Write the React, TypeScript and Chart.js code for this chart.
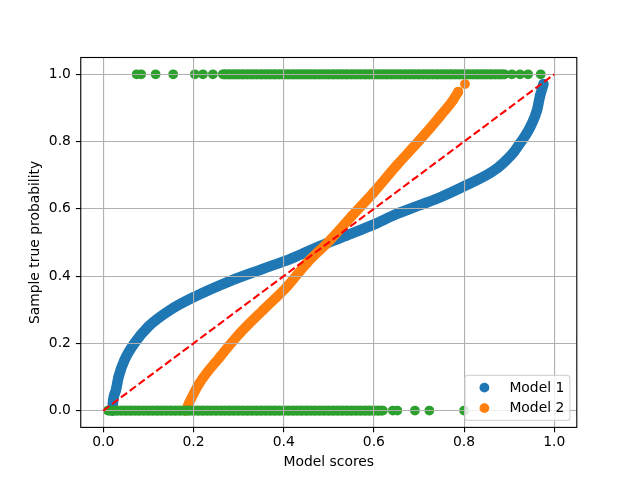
import React, { useEffect, useRef } from "react";
import { Chart, registerables } from "chart.js";

Chart.register(...registerables);

// ---------- data ----------
const xTickValues = [0.0, 0.2, 0.4, 0.6, 0.8, 1.0];
const yTickValues = [0.0, 0.2, 0.4, 0.6, 0.8, 1.0];

const model1Scores = [0.02, 0.022, 0.028, 0.034, 0.047, 0.069, 0.1, 0.148, 0.203, 0.277, 0.351, 0.418, 0.451, 0.495, 0.55, 0.599, 0.651, 0.702, 0.75, 0.8, 0.857, 0.876, 0.894, 0.91, 0.924, 0.937, 0.947, 0.962, 0.968, 0.976];
const model1True = [0.0, 0.032, 0.061, 0.101, 0.15, 0.2, 0.25, 0.299, 0.339, 0.383, 0.42, 0.453, 0.472, 0.497, 0.526, 0.553, 0.585, 0.611, 0.636, 0.667, 0.706, 0.723, 0.745, 0.768, 0.795, 0.82, 0.844, 0.894, 0.933, 0.971];

const model2Scores = [0.183, 0.19, 0.213, 0.259, 0.303, 0.355, 0.407, 0.451, 0.503, 0.55, 0.599, 0.651, 0.702, 0.746, 0.776, 0.787, 0.795, 0.802];
const model2True = [0.0, 0.022, 0.081, 0.16, 0.23, 0.3, 0.368, 0.438, 0.507, 0.577, 0.648, 0.73, 0.805, 0.874, 0.924, 0.948, null, 0.971];

// observed outcomes (label 1 / label 0) plotted at their scores
const positiveScores = [0.074, 0.084, 0.116, 0.155, 0.203, 0.221, 0.243, 0.265, 0.27, 0.28, 0.29, 0.3, 0.31, 0.32, 0.33, 0.34, 0.35, 0.36, 0.37, 0.38, 0.39, 0.4, 0.41, 0.42, 0.43, 0.44, 0.45, 0.46, 0.47, 0.48, 0.49, 0.5, 0.51, 0.52, 0.53, 0.54, 0.55, 0.56, 0.57, 0.58, 0.59, 0.6, 0.61, 0.62, 0.63, 0.64, 0.65, 0.66, 0.67, 0.68, 0.69, 0.7, 0.71, 0.72, 0.73, 0.74, 0.75, 0.76, 0.77, 0.78, 0.79, 0.8, 0.81, 0.82, 0.83, 0.84, 0.85, 0.86, 0.87, 0.88, 0.89, 0.906, 0.924, 0.942, 0.97];
const negativeScores = [0.01, 0.02, 0.03, 0.04, 0.05, 0.06, 0.07, 0.08, 0.09, 0.1, 0.11, 0.12, 0.13, 0.14, 0.15, 0.16, 0.17, 0.18, 0.19, 0.2, 0.21, 0.22, 0.23, 0.24, 0.25, 0.26, 0.27, 0.28, 0.29, 0.3, 0.31, 0.32, 0.33, 0.34, 0.35, 0.36, 0.37, 0.38, 0.39, 0.4, 0.41, 0.42, 0.43, 0.44, 0.45, 0.46, 0.47, 0.48, 0.49, 0.5, 0.51, 0.52, 0.53, 0.54, 0.55, 0.56, 0.57, 0.58, 0.59, 0.6, 0.61, 0.62, 0.642, 0.652, 0.691, 0.723, 0.8];
// stretches where the outcome markers overlap into a solid band
const positiveDenseRun = [0.265, 0.89];
const negativeDenseRun = [0.01, 0.62];
const positiveLabel = 1.0;
const negativeLabel = 0.0;

const diagonalX = [0.0, 1.0];
const diagonalY = [0.0, 1.0];

const seriesNames = ["Model 1", "Model 2"];
const xTitle = "Model scores";
const yTitle = "Sample true probability";

// ---------- styles ----------
const BLUE = "#1f77b4";
const ORANGE = "#ff7f0e";
const GREEN = "#2ca02c";
const FONT = "DejaVu Sans";
const FS = 13.89;
const MARKER_R = 4.9;

const zip = (xs: number[], ys: (number | null)[]) => xs.map((x, i) => ({ x, y: ys[i] }));

const overlayPlugin = {
  id: "overlay",
  beforeDatasetDraw(chart: any, args: any) {
    if (args.index === 0) return false;
  },
  afterDraw(chart: any) {
    const ctx = chart.ctx as CanvasRenderingContext2D;
    const ca = chart.chartArea;
    // diagonal reference line, above the grid
    ctx.save();
    ctx.beginPath();
    ctx.rect(ca.left, ca.top, ca.right - ca.left, ca.bottom - ca.top);
    ctx.clip();
    chart.getDatasetMeta(0).controller.draw();
    ctx.restore();
    // axes frame
    ctx.save();
    ctx.strokeStyle = "#000";
    ctx.lineWidth = 1.11;
    ctx.strokeRect(ca.left, ca.top, ca.right - ca.left, ca.bottom - ca.top);
    ctx.restore();
    // legend (lower right, inside the axes)
    ctx.save();
    ctx.font = `${FS}px "${FONT}"`;
    const items = chart.data.datasets
      .map((d: any) => d)
      .filter((d: any) => d.label)
      .sort((a: any, b: any) => a.label.localeCompare(b.label));
    const textW = Math.max(...items.map((d: any) => ctx.measureText(d.label).width));
    const pad = 0.4 * FS, handleLen = 2 * FS, handlePad = 0.8 * FS, rowH = 13.5, spacing = 0.5 * FS;
    const boxW = pad * 2 + handleLen + handlePad + textW;
    const boxH = pad * 2 + rowH * items.length + spacing * (items.length - 1);
    const right = ca.right - 0.5 * FS;
    const bottom = ca.bottom - 0.5 * FS;
    const left = right - boxW;
    const top = bottom - boxH;
    ctx.beginPath();
    (ctx as any).roundRect(left, top, boxW, boxH, 2.8);
    ctx.fillStyle = "rgba(255,255,255,0.8)";
    ctx.fill();
    ctx.strokeStyle = "rgba(204,204,204,0.8)";
    ctx.lineWidth = 1.2;
    ctx.stroke();
    items.forEach((d: any, k: number) => {
      const rowTop = top + pad + k * (rowH + spacing);
      const baseline = rowTop + rowH - 2.9;
      ctx.beginPath();
      ctx.arc(left + pad + handleLen / 2, baseline - 3.9, MARKER_R, 0, Math.PI * 2);
      ctx.fillStyle = d.pointBackgroundColor;
      ctx.fill();
      ctx.fillStyle = "#000";
      ctx.textBaseline = "alphabetic";
      ctx.textAlign = "left";
      ctx.fillText(d.label, left + pad + handleLen + handlePad, baseline);
    });
    ctx.restore();
  },
};

export default function App() {
  const ref = useRef<HTMLCanvasElement | null>(null);

  useEffect(() => {
    if (!ref.current) return;
    const tickFont = { family: FONT, size: FS };
    const gridOpts = {
      color: "#b0b0b0",
      lineWidth: 1.11,
      tickColor: "#000",
      tickWidth: 1.11,
      tickLength: 4.86,
      z: 1,
    };
    const chart = new Chart(ref.current, {
      type: "scatter",
      data: {
        datasets: [
          {
            data: zip(diagonalX, diagonalY),
            showLine: true,
            borderColor: "#ff0000",
            borderWidth: 2.08,
            borderDash: [7.7, 3.3],
            pointRadius: 0,
          } as any,
          {
            data: [
              { x: positiveDenseRun[0], y: positiveLabel },
              { x: positiveDenseRun[1], y: positiveLabel },
              { x: positiveDenseRun[1], y: null },
              { x: negativeDenseRun[0], y: negativeLabel },
              { x: negativeDenseRun[1], y: negativeLabel },
            ],
            showLine: true,
            spanGaps: false,
            borderColor: GREEN,
            borderWidth: 2 * MARKER_R,
            borderCapStyle: "butt",
            pointRadius: 0,
          } as any,
          {
            data: [
              ...positiveScores.map((x) => ({ x, y: positiveLabel })),
              ...negativeScores.map((x) => ({ x, y: negativeLabel })),
            ],
            pointRadius: MARKER_R,
            pointBorderWidth: 0,
            pointBackgroundColor: GREEN,
            backgroundColor: GREEN,
          },
          {
            label: seriesNames[1],
            data: zip(model2Scores, model2True),
            showLine: true,
            spanGaps: false,
            borderColor: ORANGE,
            borderWidth: 10,
            borderJoinStyle: "round",
            borderCapStyle: "round",
            cubicInterpolationMode: "monotone",
            pointRadius: MARKER_R,
            pointBorderWidth: 0,
            pointBackgroundColor: ORANGE,
            backgroundColor: ORANGE,
          } as any,
          {
            label: seriesNames[0],
            data: zip(model1Scores, model1True),
            showLine: true,
            borderColor: BLUE,
            borderWidth: 10.5,
            borderJoinStyle: "round",
            borderCapStyle: "round",
            cubicInterpolationMode: "monotone",
            pointRadius: MARKER_R,
            pointBorderWidth: 0,
            pointBackgroundColor: BLUE,
            backgroundColor: BLUE,
          } as any,
        ],
      },
      options: {
        responsive: false,
        devicePixelRatio: 1,
        animation: false,
        events: [],
        layout: { padding: { left: 0, top: 57.5, right: 63.2, bottom: 0 } },
        plugins: { legend: { display: false }, tooltip: { enabled: false } },
        scales: {
          x: {
            type: "linear",
            min: -0.05,
            max: 1.05,
            bounds: "data",
            afterBuildTicks: (s: any) => {
              s.ticks = xTickValues.map((v) => ({ value: v }));
            },
            afterFit: (s: any) => {
              s.height = 52.6;
            },
            ticks: {
              callback: (v: any) => Number(v).toFixed(1),
              font: tickFont,
              color: "#000",
              padding: 1.7,
              maxRotation: 0,
              autoSkip: false,
            },
            grid: gridOpts,
            border: { display: false },
            title: {
              display: true,
              text: xTitle,
              font: tickFont,
              color: "#000",
              padding: { top: 0, bottom: 9.7 },
            },
          },
          y: {
            type: "linear",
            min: -0.05,
            max: 1.05,
            bounds: "data",
            afterBuildTicks: (s: any) => {
              s.ticks = yTickValues.map((v) => ({ value: v }));
            },
            afterFit: (s: any) => {
              s.width = 80.75;
            },
            ticks: {
              callback: (v: any) => Number(v).toFixed(1),
              font: tickFont,
              color: "#000",
              padding: 5,
              autoSkip: false,
            },
            grid: gridOpts,
            border: { display: false },
            title: {
              display: true,
              text: yTitle,
              font: tickFont,
              color: "#000",
              padding: { top: 27, bottom: 0 },
            },
          },
        },
      } as any,
      plugins: [overlayPlugin],
    });
    return () => chart.destroy();
  }, []);

  return (
    <div style={{ position: "fixed", left: 0, top: 0, width: 640, height: 480, background: "#fff" }}>
      <canvas ref={ref} width={640} height={480} style={{ display: "block" }} />
    </div>
  );
}
